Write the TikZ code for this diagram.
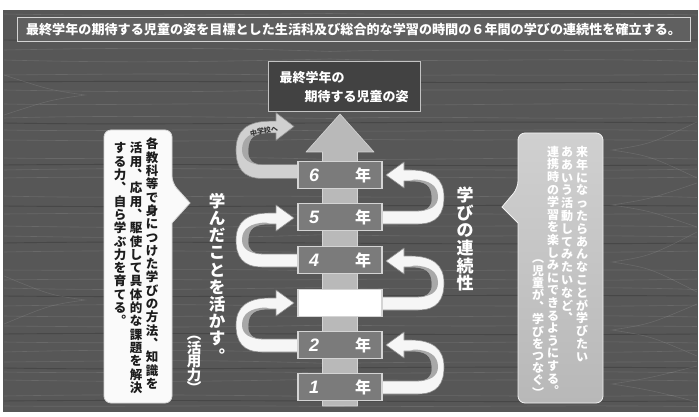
\documentclass[tikz,border=0pt]{standalone}
\usepackage{fontspec}
\setmainfont{Noto Sans CJK JP}
\newfontfamily\digitfont{Liberation Sans}
\usetikzlibrary{calc}
\pgfdeclarelayer{back}
\pgfsetlayers{back,main}
\definecolor{panel}{HTML}{575757}
\definecolor{titlefill}{HTML}{606060}
\definecolor{shaftc}{HTML}{B9B9B9}
\definecolor{yearc}{HTML}{7B7B7B}
\definecolor{edgec}{HTML}{D4D4D4}
\definecolor{ribc}{HTML}{F6F6F6}
\definecolor{ribgray}{HTML}{D0D0D0}
\definecolor{ribshade}{HTML}{A8A8A8}
\definecolor{ribedge}{HTML}{8E8E8E}
\definecolor{goalc}{HTML}{424242}
\definecolor{lbubble}{HTML}{FAFAFA}
\definecolor{rbtop}{HTML}{D0D0D0}
\definecolor{rbbot}{HTML}{B8B8B8}
\definecolor{darktext}{HTML}{1C1C1C}

\ExplSyntaxOn
\dim_new:N \l_vs_pitch_dim
\NewDocumentCommand \vstack { m m }
 {
  \vtop
   {
    \offinterlineskip
    \dim_set:Nn \l_vs_pitch_dim { #1 }
    \tl_map_inline:nn { #2 }
     {
      \hbox_to_wd:nn { 1em }
       { \hss \smash { ##1 } \hss \vrule height 0.88\l_vs_pitch_dim depth 0.12\l_vs_pitch_dim width 0pt }
     }
   }
 }
\ExplSyntaxOff

\newcommand\yearlabel[1]{\hbox to 62pt{{\digitfont\bfseries\itshape\fontsize{18}{18}\selectfont #1}\hfill{\fontsize{16}{16}\selectfont\bfseries 年}}}

\newcommand\loopribbon[3]{%
  \begin{scope}[shift={(#1.center)},#2]
    \filldraw[fill=#3,draw=ribedge,line width=0.6pt,line join=round]
      (36,7) -- (78,7) .. controls (97,7) and (104,-3) .. (104,-20)
      .. controls (104,-38) and (93,-47) .. (70,-47) -- (64,-47) -- (64,-55)
      -- (46,-42) -- (64,-29) -- (64,-36) -- (70,-36)
      .. controls (86,-36) and (92,-32) .. (92,-18)
      .. controls (92,-10) and (87,-6) .. (78,-6) -- (36,-6) -- cycle;
    \fill[ribshade] (70,-36) .. controls (86,-36) and (92,-32) .. (92,-18)
      .. controls (92,-10) and (87,-6) .. (78,-6)
      .. controls (90,-6) and (98,-11) .. (98,-20)
      .. controls (98,-31) and (90,-37) .. (74,-37.5) -- cycle;
  \end{scope}}

\begin{document}
\begin{tikzpicture}[x=1pt,y=-1pt,
  grain/.style={draw=white,opacity=0.11,line width=0.6pt},
  darkgrain/.style={draw=black,opacity=0.18,line width=0.9pt},
  yearbox/.style={draw=edgec,line width=1.2pt,fill=yearc,minimum width=84pt,minimum height=27pt,inner sep=0pt,text=white},
  titlebox/.style={draw=edgec,line width=1pt,fill=titlefill,minimum width=673pt,minimum height=24pt,inner sep=0pt,text=white,font=\fontsize{13.1}{14}\selectfont\bfseries},
  goalbox/.style={draw=edgec!80!gray,line width=1pt,fill=goalc,minimum width=152pt,minimum height=50pt,inner sep=0pt,text=white,align=left,font=\fontsize{13}{19}\selectfont\bfseries},
  ltext/.style={anchor=north,inner sep=0pt,text=darktext,font=\fontsize{12.5}{13}\selectfont\bfseries},
  rtext/.style={anchor=north,inner sep=0pt,text=white,font=\fontsize{12}{13}\selectfont\bfseries},
  biglabel/.style={anchor=north,inner sep=0pt,text=white,font=\fontsize{16.5}{17}\selectfont\bfseries},
  smalllabel/.style={inner sep=0pt,text=black!80,font=\fontsize{7}{8}\selectfont\bfseries},
  bubbleL/.style={fill=lbubble,draw=edgec,line width=0.8pt},
  bubbleR/.style={top color=rbtop,bottom color=rbbot,draw=white!90!gray,line width=0.8pt}
]
\useasboundingbox (0,0) rectangle (699,417);

\begin{pgfonlayer}{back}
  \fill[white] (0,0) rectangle (699,417);
  \fill[panel] (3,10) rectangle (698,412);
  \foreach \yy/\a/\b in {14/2/-1,50/-2/3,60/3/-2,75/-1/2,90/2/-3,104/2/2,118/-3/1,130/2/2,140/1/-2,158/2/3,170/-2/2,178/-2/-1,196/3/1,214/-1/2,226/2/-2,236/2/-3,252/-2/1,270/1/2,280/-2/-1,288/3/-1,306/-2/2,316/2/1,326/1/-2,342/2/1,352/-3/2,362/-1/3,372/2/2,380/2/-2,396/-2/1,406/1/1}
    \draw[grain] (4,\yy) .. controls (120,{\yy+\a}) and (200,{\yy-\b}) .. (330,{\yy+\b/2}) .. controls (450,{\yy+\a}) and (560,{\yy-\a}) .. (697,{\yy+\a/2});
  \foreach \yy/\a in {40/2,82/-2,123/3,165/-2,206/2,243/-3,296/2,334/-2,368/3,401/-2}
    \draw[darkgrain] (4,\yy) .. controls (180,{\yy+\a}) and (420,{\yy-\a}) .. (697,\yy);
  \foreach \cy/\d in {150/28,205/22,262/30,330/26,384/18}
    \draw[grain] (697,{\cy-\d}) .. controls (650,{\cy-6}) .. (612,\cy) .. controls (650,{\cy+6}) .. (697,{\cy+\d});
  \foreach \cy/\d in {95/20,300/24}
    \draw[grain] (4,{\cy-\d}) .. controls (50,{\cy-5}) .. (85,\cy) .. controls (50,{\cy+5}) .. (4,{\cy+\d});
  % central arrow
  \filldraw[fill=shaftc,draw=edgec,line width=0.6pt,line join=round]
    (322.5,406) -- (322.5,152) -- (306,152) -- (340,114) -- (374,152) -- (357.5,152) -- (357.5,406) -- cycle;
\end{pgfonlayer}

% title
\node[titlebox] (title) at (353.5,30) {最終学年の期待する児童の姿を目標とした生活科及び総合的な学習の時間の６年間の学びの連続性を確立する。};

% goal box
\node[goalbox] (goal) at (344,87) {最終学年の\\\hspace*{25pt}期待する児童の姿};

% year boxes
\node[yearbox] (y6) at (340,175) {\yearlabel{6}};
\node[yearbox] (y5) at (340,217) {\yearlabel{5}};
\node[yearbox] (y4) at (340,260) {\yearlabel{4}};
\node[yearbox,fill=white] (y3) at (340,303) {};
\node[yearbox] (y2) at (340,345) {\yearlabel{2}};
\node[yearbox] (y1) at (340,387) {\yearlabel{1}};

% looping arrows
\begin{pgfonlayer}{back}
  \loopribbon{y1}{xscale=1}{ribc}
  \loopribbon{y3}{xscale=1}{ribc}
  \loopribbon{y5}{xscale=1}{ribc}
  \loopribbon{y2}{xscale=-1}{ribc}
  \loopribbon{y4}{xscale=-1}{ribc}
  \loopribbon{y6}{yshift=4pt,xscale=-1,yscale=1.06}{ribgray}
\end{pgfonlayer}
\node[smalllabel,rotate=10] (jhs) at (264,131) {中学校へ};

% left bubble
\filldraw[bubbleL] (104,260) [rounded corners=7] -- (104,130) -- (172,130) -- (172,183) [sharp corners] -- (190,203) -- (172,223) [rounded corners=7] -- (172,403) -- (104,403) -- cycle;
\node[ltext] (lb1) at (152,137) {\vstack{13.3pt}{各教科等で身につけた学びの方法︑知識を}};
\node[ltext] (lb2) at (136,141) {\vstack{13.3pt}{活用︑応用︑駆使して具体的な課題を解決}};
\node[ltext] (lb3) at (120,141) {\vstack{13.3pt}{する力︑自ら学ぶ力を育てる︒}};

% right bubble
\shadedraw[bubbleR] (603,260) [rounded corners=7] -- (603,133) -- (518,133) -- (518,188) [sharp corners] -- (502,207) -- (518,223) [rounded corners=7] -- (518,403) -- (603,403) -- cycle;
\node[rtext] (rb1) at (582,145) {\vstack{12.8pt}{来年になったらあんなことが学びたい}};
\node[rtext] (rb2) at (567,145) {\vstack{12.8pt}{ああいう活動してみたいなど︑}};
\node[rtext] (rb3) at (553,145) {\vstack{12.6pt}{連携時の学習を楽しみにできるようにする︒}};
\node[rtext] (rb4) at (538,252) {\vstack{12.2pt}{︵児童が︑学びをつなぐ︶}};

% big vertical labels
\node[biglabel] (use) at (217,192) {\vstack{17.2pt}{学んだことを活かす︒}};
\node[biglabel,font=\fontsize{14.5}{15}\selectfont\bfseries] (usepower) at (194,328) {\vstack{13.4pt}{︵活用力︶}};
\node[biglabel,font=\fontsize{17}{17}\selectfont\bfseries] (cont) at (465,186) {\vstack{17.6pt}{学びの連続性}};
\end{tikzpicture}
\end{document}
